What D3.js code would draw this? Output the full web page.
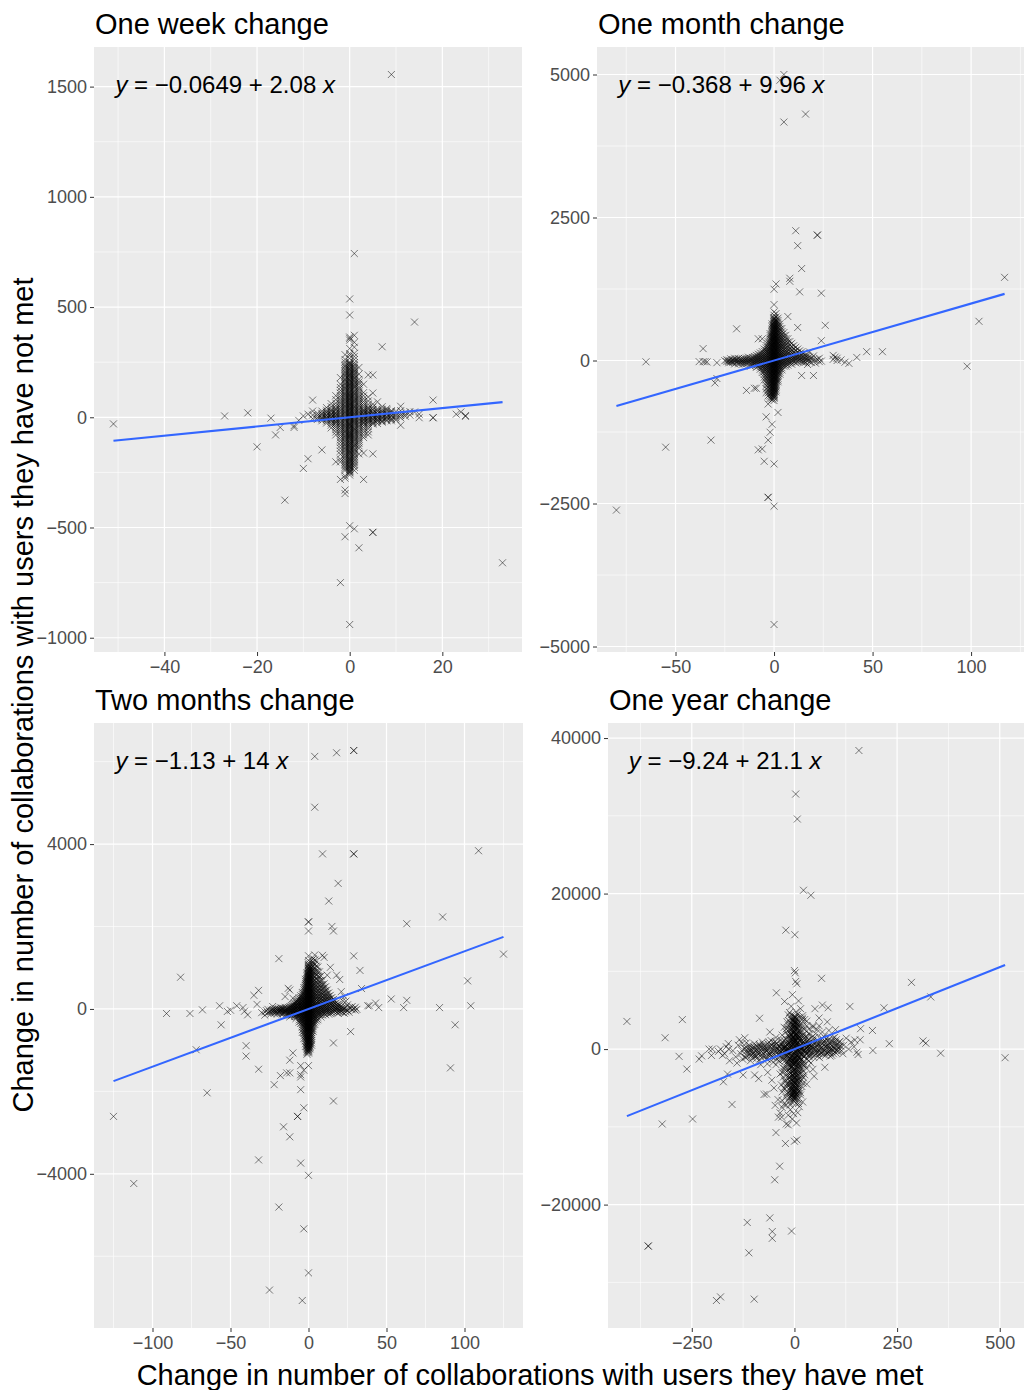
<!DOCTYPE html>
<html>
<head>
<meta charset="utf-8">
<script src="https://cdn.jsdelivr.net/npm/d3@7"></script>
<style>
  body { margin: 0; background: #ffffff; }
  svg { display: block; font-family: "Liberation Sans", Arial, Helvetica, sans-serif; }
</style>
</head>
<body>
<svg id="chart" width="1025" height="1390"></svg>
<script>
// Panel titles, fitted line coefficients and axis breaks
const panelTitles = ["One week change", "One month change", "Two months change", "One year change"];
const intercepts = [-0.0649, -0.368, -1.13, -9.24];
const slopes = [2.08, 9.96, 14, 21.1];
const xBreaks = [[-40, -20, 0, 20], [-50, 0, 50, 100], [-100, -50, 0, 50, 100], [-250, 0, 250, 500]];
const yBreaks = [[-1000, -500, 0, 500, 1000, 1500], [-5000, -2500, 0, 2500, 5000], [-4000, 0, 4000], [-20000, 0, 20000, 40000]];
const xTitle = "Change in number of collaborations with users they have met";
const yTitle = "Change in number of collaborations with users they have not met";

// One week: observations grouped by change with met users, [x, [y, ...]]
const weekPoints = [
  [0, [537, 464, 364, 358, 350, 312, 289, 280, 267, 251, 243, 236, 231, 222, 216, 211, 203, 195, 192, 184, 177, 171, 166, 158, 150, 147, 139, 133, 125, 120, 113, 106, 100, 94, 86, 81, 73, 67, 60, 55, 48, 41, 36, 29, 22, 17, 10, 4, -1, -8, -15, -19, -27, -33, -38, -46, -52, -57, -65, -71, -78, -84, -90, -97, -104, -109, -117, -122, -130, -137, -142, -150, -156, -163, -170, -175, -183, -190, -196, -204, -210, -218, -225, -231, -239, -246, -253, -262, -492, -940]],
  [0, [248, 240, 228, 219, 208, 199, 189, 181, 170, 162, 153, 144, 136, 129, 117, 110, 103, 97, 90, 83, 77, 70, 63, 57, 51, 44, 38, 32, 25, 19, 13, 7, 1, -5, -11, -23, -30, -35, -43, -49, -60, -68, -75, -81, -87, -93, -101, -112, -119, -127, -134, -145, -153, -160, -167, -179, -187, -193, -200, -207, -215, -222, -228, -236, -243, -250]],
  [1, [743, 372, 340, 318, 290, 276, 262, 248, 240, 226, 214, 205, 193, 182, 174, 163, 152, 142, 134, 121, 110, 102, 91, 80, 71, 60, 49, 42, 31, 20, 12, 2, -9, -18, -28, -39, -50, -58, -69, -80, -90, -101, -112, -124, -133, -146, -158, -170, -184, -197, -212, -227, -241, -506]],
  [1, [233, 220, 209, 198, 188, 178, 168, 158, 147, 138, 128, 116, 106, 96, 86, 76, 66, 55, 46, 36, 26, 16, 7, -4, -14, -23, -33, -44, -54, -63, -74, -85, -95, -106, -118, -129, -140, -152, -164, -177, -190, -204, -219]],
  [-1, [284, 262, 240, 227, 212, 199, 188, 174, 163, 151, 139, 130, 117, 106, 95, 84, 72, 63, 51, 40, 30, 19, 8, -2, -13, -24, -34, -45, -56, -67, -79, -90, -101, -114, -126, -139, -152, -166, -180, -195, -211, -226, -241, -266, -276, -330, -346, -542]],
  [-1, [250, 233, 219, 205, 193, 181, 169, 157, 145, 134, 123, 111, 100, 89, 78, 67, 57, 46, 35, 24, 13, 3, -8, -18, -29, -40, -51, -62, -73, -84, -96, -108, -120, -132, -145, -159, -173, -188, -203, -218, -233]],
  [2, [226, 196, 172, 150, 128, 109, 92, 74, 58, 44, 31, 18, 6, -7, -20, -33, -47, -63, -80, -98, -118, -140, -166, -592]],
  [2, [160, 138, 118, 100, 83, 66, 51, 37, 24, 12, 0, -13, -26, -40, -55, -71, -89, -108, -129]],
  [-2, [180, 150, 122, 98, 78, 61, 44, 30, 16, 3, -10, -24, -38, -54, -72, -92, -114, -140, -168, -190, -202, -750, -282]],
  [-2, [135, 110, 88, 69, 52, 37, 23, 9, -3, -17, -31, -46, -63, -82, -103, -127, -154]],
  [3, [150, 112, 84, 62, 43, 27, 13, 0, -14, -29, -47, -68, -92, -162, -282]],
  [3, [98, 72, 52, 35, 20, 6, -7, -21, -37, -57, -80, 30, 16, 3, -10, -24]],
  [-3, [98, 64, 41, 23, 9, -5, -19, -36, -56, -80, -202]],
  [-3, [80, 52, 32, 16, 2, -12, -27, -45, -67, 36, 18, 4, -9, -22]],
  [4, [192, 92, 58, 36, 20, 6, -8, -24, -42, -66, -80]],
  [4, [74, 46, 28, 13, 0, -15, -32, -52, 40, 22, 8, -6, -20]],
  [-4, [62, 36, 18, 4, -10, -27, -48]],
  [-4, [48, 27, 11, -3, -18, -36, 30, 14, 0, -14]],
  [5, [192, 110, 60, 34, 16, 2, -13, -31, -166, -522, -522]],
  [5, [46, 25, 9, -5, -21, 36, 20, 6, -8, -26]],
  [-5, [44, 22, 6, -9, -26]],
  [-5, [32, 14, -1, -17, 24, 8, -6]],
  [6, [70, 38, 18, 4, -10, -28]],
  [6, [26, 10, -3, -18, 32, 14, 0, -14]],
  [-6, [28, 8, -8, -148]],
  [-6, [18, 0, -16, 14, -4]],
  [7, [320, 48, 24, 8, -6, -22]],
  [7, [36, 16, 0, -14, 28, 12, -2, -18]],
  [-7, [18, -2, 8, -10]],
  [8, [40, 20, 4, -12]],
  [8, [28, 12, -4, 34, 16, 0, -16]],
  [-8, [78, 28, 10, -6]],
  [9, [1555, 30, 10, -6, -16, 20, 2, 26, 8, -10]],
  [-9, [14, -188]],
  [10, [26, 6, -12, 14, -4]],
  [-10, [6, -232]],
  [11, [50, 16, -2, -36, 8, 30]],
  [-11, [-14]],
  [12, [22, 4, 12]],
  [-12, [-38, -46]],
  [13, [26, 10]],
  [14, [432, 24]],
  [15, [14, -2]],
  [-14, [-376]],
  [-15, [-46]],
  [-16, [-80]],
  [-17, [-4]],
  [18, [78, -2, -2]],
  [-20, [-134]],
  [-22, [20]],
  [23, [14]],
  [24, [24]],
  [25, [4, 8]],
  [-27, [6]],
  [33, [-660]],
  [-51, [-30]]
];

// One month
const monthPoints = [
  [0, [1246, 977, 850, 790, 752, 726, 700, 671, 645, 618, 590, 566, 540, 512, 487, 460, 434, 410, 383, 357, 330, 306, 280, 255, 228, 203, 176, 150, 126, 100, 74, 50, 24, -3, -28, -54, -80, -106, -131, -158, -183, -210, -236, -262, -290, -315, -342, -368, -395, -421, -448, -474, -500, -527, -553, -580, -607, -633, -660, -700, -1808, -2546, -4615]],
  [0, [740, 712, 684, 657, 630, 604, 578, 552, 526, 499, 473, 447, 421, 396, 370, 344, 318, 293, 267, 241, 215, 189, 163, 138, 112, 87, 62, 37, 11, -15, -41, -67, -93, -119, -145, -171, -197, -223, -249, -276, -302, -329, -355, -381, -408, -435, -461, -488, -514, -540, -567, -594, -620, -647]],
  [1, [1338, 820, 760, 702, 650, 598, 552, 503, 455, 410, 362, 318, 273, 227, 184, 140, 96, 54, 12, -30, -74, -116, -160, -204, -250, -296, -344, -392, -442, -495, -550]],
  [1, [680, 622, 575, 527, 480, 432, 386, 340, 296, 250, 206, 162, 118, 75, 33, -9, -52, -95, -138, -182, -227, -273, -320, -368, -417, -468, -522]],
  [-1, [640, 585, 530, 480, 432, 384, 338, 292, 248, 204, 160, 118, 76, 34, -8, -50, -94, -138, -182, -228, -274, -320, -368, -416, -466, -518, -572, -628, -688, -1115]],
  [-1, [612, 557, 505, 456, 408, 361, 315, 270, 226, 182, 139, 97, 55, 13, -29, -72, -116, -160, -205, -251, -297, -344, -392, -441, -492, -545, -600, -658]],
  [2, [740, 668, 600, 536, 476, 418, 362, 308, 256, 204, 154, 104, 56, 10, -38, -88, -140, -194, -250, -310, -372, -908]],
  [2, [700, 634, 568, 506, 447, 390, 335, 282, 230, 179, 129, 80, 33, -13, -63, -114, -167, -222, -280, -341]],
  [-2, [470, 404, 342, 284, 228, 174, 122, 70, 20, -30, -82, -136, -192, -250, -310, -374, -440, -510, -584, -662, -1254]],
  [-2, [437, 373, 313, 256, 201, 148, 96, 45, -5, -56, -109, -164, -221, -280, -342, -407, -475, -547, -623]],
  [3, [4900, 640, 552, 470, 394, 322, 254, 190, 128, 68, 10, -48, -108, -172, -240]],
  [3, [596, 511, 432, 358, 288, 222, 159, 98, 39, -19, -78, -140, -206]],
  [-3, [330, 256, 186, 120, 58, -2, -62, -124, -190, -260, -336, -420, -512, -618, -760, -1392, -2392, -2392]],
  [-3, [293, 221, 153, 89, 28, -32, -93, -157, -225, -298, -378, -466, -565]],
  [4, [560, 452, 356, 270, 192, 118, 48, -20, -90, -164]],
  [4, [506, 404, 313, 231, 155, 83, 14, -55, -127]],
  [-4, [262, 180, 106, 38, -28, -96, -168, -246, -334, -436, -560, -985]],
  [-4, [221, 143, 72, 5, -62, -132, -207, -290, -385, -498]],
  [5, [5000, 4169, 488, 380, 284, 196, 116, 42, -28, -100]],
  [5, [434, 332, 240, 156, 79, 6, -64]],
  [-5, [200, 122, 52, -14, -82, -156, -240, -340, -1762]],
  [-5, [161, 87, 19, -48, -119, -198, -290]],
  [6, [440, 320, 216, 126, 46, -26, -98]],
  [6, [380, 268, 171, 86, 10, -62]],
  [-6, [380, 156, 80, 12, -54, -126, -210, -1546]],
  [-6, [118, 46, -21, -90, -168]],
  [7, [769, 380, 262, 160, 72, -6, -80]],
  [7, [321, 211, 116, 32, -43]],
  [-7, [132, 58, -8, -76, -152]],
  [-7, [95, 25, -42, -114]],
  [8, [1438, 1385, 330, 214, 114, 30, -44]],
  [8, [272, 164, 72, -7]],
  [-8, [380, 110, 40, -26, -98, -1562]],
  [-8, [75, 7, -62]],
  [9, [300, 180, 86, 8, -66, 240, 133, 47, -29]],
  [-9, [90, 22, -44, -120, -485, 56, -11, -82]],
  [10, [260, 146, 56, -20, 203, 101, 18]],
  [-10, [72, 6, -60, -485, 39, -27]],
  [11, [2269, 232, 120, 36, -40, 176, 78, 2]],
  [-11, [54, -12, -80, 21, -46]],
  [12, [2008, 577, 200, 96, 14, 148, 55, -18]],
  [-12, [40, -26, -100, 7, -63]],
  [13, [1200, 170, 72, -6, 120, 30]],
  [-13, [24, -40, -8, 58]],
  [14, [1608, 150, 52, -24, -262, 100, 8]],
  [-14, [12, -56, -523, 44, -22]],
  [15, [120, 32, -40, 76, -10]],
  [-15, [36, -28, 2, -60]],
  [16, [4308, 96, 16, 58, -30]],
  [-16, [0, -64, 30, -32]],
  [17, [80, -4, -70, 40]],
  [-17, [18, -46, -12]],
  [18, [150, 62, -20, 22]],
  [-18, [4, -58, -26, 36]],
  [19, [40, -36]],
  [-19, [554, 22, -30, -4]],
  [20, [80, 24, -262]],
  [-20, [40, -12, -60, 10]],
  [21, [8, -46]],
  [-21, [14, -36, -12]],
  [22, [2192, 2192, 20]],
  [-22, [30, -10, -30]],
  [23, [40, -20]],
  [-23, [6, -40, -14]],
  [24, [1177, 346, -10]],
  [-24, [12, -20]],
  [-25, [-4]],
  [26, [615]],
  [-29, [-38, -315]],
  [30, [90, 20]],
  [-30, [-392]],
  [31, [60]],
  [32, [40, 0]],
  [-32, [-1392]],
  [34, [10]],
  [-34, [-25]],
  [-35, [-20]],
  [36, [-30]],
  [-36, [208, -20]],
  [38, [-50]],
  [-38, [-20]],
  [42, [54]],
  [47, [154]],
  [55, [154]],
  [-55, [-1515]],
  [-65, [-23]],
  [-80, [-2615]],
  [98, [-100]],
  [104, [685]],
  [117, [1454]]
];

// Two months
const twoMonthPoints = [
  [0, [2112, 2112, 1892, 1290, 1175, 1118, 1080, 1046, 1003, 972, 930, 897, 858, 821, 790, 749, 716, 678, 641, 610, 571, 536, 503, 466, 428, 397, 359, 321, 290, 252, 214, 183, 146, 108, 77, 40, 3, -28, -66, -103, -135, -172, -208, -241, -277, -314, -347, -383, -419, -452, -490, -526, -559, -596, -633, -665, -702, -738, -771, -808, -845, -878, -915, -951, -986, -1022, -1067, -1375, -4037, -6403]],
  [0, [1060, 1012, 985, 950, 912, 877, 840, 805, 768, 732, 697, 660, 624, 590, 553, 518, 482, 446, 410, 374, 340, 304, 268, 232, 198, 162, 126, 90, 56, 20, -14, -48, -84, -120, -153, -190, -224, -259, -296, -331, -365, -401, -436, -471, -508, -543, -578, -614, -649, -684, -720, -755, -790, -826, -861, -896, -933, -968, -1004, -1040]],
  [1, [1010, 946, 884, 820, 757, 697, 634, 573, 511, 452, 390, 331, 272, 210, 152, 93, 34, -25, -84, -143, -204, -264, -325, -385, -447, -510, -572, -636, -700, -766, -832, -900, -968]],
  [1, [978, 915, 852, 789, 727, 666, 604, 543, 482, 421, 361, 301, 241, 181, 122, 63, 4, -55, -114, -174, -234, -295, -355, -416, -478, -541, -604, -668, -733, -799, -866, -934]],
  [-1, [880, 806, 735, 663, 594, 525, 457, 390, 324, 259, 194, 130, 67, 4, -58, -121, -184, -248, -312, -377, -443, -510, -578, -647, -718, -790, -864, -940, -1020, -1100]],
  [-1, [843, 771, 699, 628, 559, 491, 424, 357, 291, 226, 162, 98, 35, -27, -90, -152, -216, -280, -345, -410, -477, -544, -612, -683, -754, -827, -902, -980, -1060]],
  [2, [1180, 1060, 950, 846, 748, 655, 566, 481, 399, 320, 244, 170, 98, 28, -41, -110, -180, -252, -326, -404, -486, -574, -668, -770, -880]],
  [2, [1120, 1005, 898, 797, 701, 610, 523, 440, 359, 282, 207, 134, 63, -7, -75, -145, -216, -289, -365, -445, -530, -621, -719, -825]],
  [-2, [720, 620, 528, 442, 361, 284, 210, 140, 72, 6, -58, -122, -188, -256, -328, -404, -486, -574, -670, -780, -910]],
  [-2, [670, 574, 485, 401, 322, 247, 175, 106, 39, -26, -90, -155, -222, -292, -366, -445, -530, -622, -725, -845]],
  [3, [1220, 1040, 880, 736, 604, 484, 374, 272, 178, 90, 6, -76, -158, -242, -332, -430, -540]],
  [3, [1130, 960, 808, 670, 544, 429, 323, 225, 134, 48, -35, -117, -200, -287, -381, -485]],
  [-3, [520, 410, 312, 224, 144, 70, 0, -68, -138, -212, -292, -380, -478, -590, -720, -1485, -2398, -5335]],
  [-3, [465, 361, 268, 184, 107, 35, -34, -103, -175, -252, -336, -429, -534, -655]],
  [4, [6128, 4895, 1310, 1080, 880, 700, 542, 400, 272, 156, 50, -50, -150, -256, -374]],
  [4, [1190, 980, 790, 621, 471, 336, 214, 103, 0, -100, -203, -315]],
  [-4, [400, 300, 210, 130, 58, -12, -82, -156, -238, -330, -438, -570, -7074]],
  [-4, [350, 255, 170, 94, 23, -47, -119, -197, -284, -384, -504]],
  [5, [1160, 920, 720, 548, 396, 262, 142, 34, -68, -172, -290]],
  [5, [1040, 820, 634, 472, 329, 202, 88, -17, -120, -231]],
  [-5, [320, 224, 140, 64, -8, -82, -160, -248, -350, -1375, -1595, -1650, -1958, -3740]],
  [-5, [272, 182, 102, 28, -45, -121, -204, -299]],
  [6, [1020, 800, 610, 446, 302, 174, 60, -46, -150, -262]],
  [6, [910, 705, 528, 374, 238, 117, 7, -98, -206]],
  [-6, [270, 180, 100, 26, -46, -124, -212, -318]],
  [-6, [225, 140, 63, -10, -85, -168, -265]],
  [7, [900, 680, 496, 340, 204, 84, -24, -130]],
  [7, [790, 588, 418, 272, 144, 30, -77]],
  [-7, [220, 136, 60, -14, -92, -178, -2607, -2607]],
  [-7, [178, 98, 23, -53, -135]],
  [8, [800, 590, 414, 266, 136, 22, -84, -196]],
  [8, [690, 502, 340, 201, 79, -31, -140]],
  [-8, [176, 96, 22, -54, -136, -232]],
  [-8, [136, 59, -16, -95, -184]],
  [9, [3762, 1300, 700, 500, 340, 200, 76, -36, -146]],
  [9, [590, 415, 270, 138, 17, -91]],
  [-9, [140, 60, -14, -92, -180, 100, 20, -53, -136]],
  [10, [1250, 610, 420, 262, 126, 6, -106, 515, 341, 194, 66, -47]],
  [-10, [260, 110, 32, -44, -124, -1067, 70, -6, -84]],
  [11, [540, 360, 210, 84, -28, -140, 450, 285, 147, 28, -84]],
  [-11, [84, 8, -70, -156, 46, -31, -113]],
  [12, [820, 460, 290, 150, 30, -82, 370, 220, 90, -25]],
  [-12, [460, 60, -16, -96, -190, -1243, -1551, -3102, 22, -56, -140]],
  [13, [2618, 390, 236, 104, -14, -126, 310, 170, 45, -70]],
  [-13, [500, 38, -40, -124, 0, -82]],
  [14, [1010, 330, 186, 62, -54, 256, 124, 6, -110]],
  [-14, [16, -62, -148, -1551, -22, -104]],
  [15, [2002, 276, 142, 24, -88, 210, 84, -30]],
  [-15, [300, -6, -86, -46, 40]],
  [16, [1892, 230, 104, -10, -825, -2233, 170, 50, -64]],
  [-16, [-24, -110, -2860, -70, 14]],
  [17, [188, 68, -44, 130, 16]],
  [-17, [20, -46, -130, -10, -94]],
  [18, [6216, 820, 150, 36, -76, 95, -16]],
  [-18, [-14, -96, -1617, -40, 30]],
  [19, [3047, 116, 4, -104, 60, -50]],
  [-19, [1221, 6, -72, -4807, -30]],
  [20, [715, 86, -28, 30, -70]],
  [-20, [-36, -120, 0, -80]],
  [21, [420, 58, -58, 10]],
  [-21, [14, -80, -40]],
  [22, [200, 30, -84, -20]],
  [-22, [-24, -104, -1837, -60]],
  [23, [300, 8, -106]],
  [-23, [60, -50, -10]],
  [24, [190, -16, -70, 40]],
  [-24, [-30, -118, -70]],
  [25, [100, -36]],
  [-25, [-64, -6821]],
  [26, [30, -80]],
  [-26, [-10, -96]],
  [27, [20, -550]],
  [-27, [-40]],
  [28, [60, -20]],
  [-28, [-70, -150]],
  [29, [6271, 6271, 3762, 3762, 1287, 0]],
  [30, [40, -30]],
  [-30, [-90]],
  [31, [-10]],
  [-32, [451, -1463, -3663]],
  [-33, [110]],
  [33, [935]],
  [34, [495]],
  [-35, [330]],
  [38, [77]],
  [39, [77]],
  [-39, [-143]],
  [-40, [-891, -1144]],
  [-41, [-55]],
  [-42, [33]],
  [43, [143]],
  [45, [33]],
  [-46, [77]],
  [-50, [-30]],
  [-52, [-60]],
  [53, [242]],
  [-56, [-385]],
  [-57, [77]],
  [61, [33]],
  [63, [209, 2068]],
  [-65, [-2035]],
  [-68, [-22]],
  [-72, [-990]],
  [-76, [-110]],
  [-82, [770]],
  [84, [33]],
  [86, [2233]],
  [91, [-1430]],
  [-91, [-110]],
  [94, [-385]],
  [102, [682]],
  [104, [77]],
  [109, [3839]],
  [-112, [-4235]],
  [125, [1331]],
  [-125, [-2607]]
];

// One year: individual observations, [x, y]
const yearPoints = [
  [0, 4250], [3, 4100], [-2, 3980], [5, 3860], [1, 3740], [-4, 3620], [7, 3500], [2, 3380], [-1, 3260], [6, 3140],
  [-6, 3020], [3, 2900], [-3, 2790], [9, 2680], [0, 2570], [-8, 2460], [5, 2350], [11, 2240], [-2, 2130], [-10, 2020],
  [7, 1910], [1, 1800], [-5, 1690], [13, 1580], [-12, 1470], [3, 1360], [9, 1250], [-7, 1140], [0, 1030], [15, 920],
  [-14, 810], [6, 700], [-3, 590], [11, 480], [-9, 370], [2, 260], [17, 150], [-16, 40], [-1, -70],
  [8, -180], [-6, -290], [14, -400], [-12, -510], [1, -620], [18, -730], [-18, -840], [4, -950], [-9, -1060], [12, -1170],
  [-3, -1280], [16, -1390], [-15, -1500], [6, -1610], [-7, -1720], [10, -1830], [0, -1940], [-13, -2050], [14, -2160], [-4, -2270],
  [8, -2380], [-10, -2490], [2, -2600], [-16, -2710], [12, -2820], [-6, -2930], [5, -3040], [-1, -3150], [-12, -3260], [9, -3370],
  [-8, -3480], [3, -3590], [-14, -3700], [11, -3810], [-3, -3920], [7, -4030], [-10, -4140], [0, -4250], [-6, -4360], [4, -4470],
  [-12, -4580], [9, -4690], [-2, -4800], [-8, -4910], [6, -5020], [-4, -5130], [1, -5240], [-10, -5350], [3, -5460], [-6, -5570],
  [7, -5680], [-2, -5790], [-9, -5900], [2, -6010], [-5, -6120], [4, -6230], [-1, -6340],
  [-1, 4180], [4, 3920], [-5, 3700], [2, 3460], [8, 3200], [-3, 3080], [4, 2840], [-7, 2620], [10, 2400], [-1, 2190],
  [4, 1980], [-9, 1860], [8, 1640], [-4, 1420], [12, 1200], [-1, 980], [-11, 760], [8, 540], [-6, 320], [13, 100],
  [-4, -120], [10, -340], [-15, -560], [5, -780], [-2, -1000], [15, -1220], [-11, -1440], [3, -1660], [-5, -1880], [11, -2100],
  [-8, -2320], [6, -2540], [-2, -2760], [-11, -2980], [8, -3200], [-5, -3420], [1, -3640], [-9, -3860], [5, -4080], [-15, -4300],
  [2, -4520], [-5, -4740], [10, -4960], [-7, -5180], [0, -5400], [-3, -5620], [5, -5840], [-7, -6060], [0, -6280],
  [2, 4050], [-3, 3850], [1, 3560], [-1, 3400], [5, 3300], [-4, 3150], [0, 2960], [6, 2750], [-5, 2560], [2, 2450],
  [-1, 2300], [7, 2100], [-6, 1950], [3, 1750], [-3, 1600], [8, 1450], [-8, 1300], [1, 1150], [5, 1080], [-4, 900],
  [9, 850], [-10, 650], [3, 500], [-2, 420], [12, 330], [-12, 200], [5, 120], [-5, -20], [10, -100], [-9, -250],
  [2, -350], [-1, -460], [13, -600], [-14, -700], [6, -860], [-5, -920], [11, -1010], [-11, -1120], [1, -1230], [8, -1340],
  [-6, -1420], [13, -1560], [-12, -1650], [3, -1760], [-2, -1860], [10, -1970], [-9, -2080], [5, -2200], [-6, -2310], [12, -2430],
  [-13, -2550], [0, -2670], [7, -2780], [-4, -2880], [10, -2990], [-9, -3100], [2, -3210], [-5, -3320], [6, -3440], [-11, -3550],
  [0, -3660], [9, -3770], [-7, -3880], [3, -3990], [-2, -4100], [5, -4210], [-9, -4320], [1, -4430], [8, -4540], [-5, -4650],
  [-1, -4770], [4, -4880], [-11, -4990], [2, -5100], [-6, -5210], [8, -5320], [-3, -5430], [0, -5540], [-8, -5650], [4, -5760],
  [-5, -5870], [6, -5980], [-2, -6090], [-10, -6200], [2, -6400], [-3, -6550], [0, -6700], [-6, -6850], [4, -7000],
  [0, 3050], [3, 2650], [-2, 2050], [4, 1650], [-2, 1250], [0, 850], [2, 450], [-1, 50], [3, -250], [-3, -700],
  [1, -1150], [-1, -1600], [4, -2050], [-3, -2500], [1, -2950], [-2, -3400], [3, -3850], [-1, -4300], [2, -4750], [-3, -5200],
  [0, -5650], [1, -6100],
  [-38, 400], [-34, -600], [-30, 900], [-27, -1100], [-24, 100], [-21, 1300], [-18, -300], [-15, 700], [-12, -1400], [-9, 1000],
  [-6, -700], [-3, 1500], [0, -1300], [3, 1100], [6, -500], [9, 1400], [12, -900], [15, 500], [18, -1300], [21, 900],
  [24, -200], [27, 1200], [30, -700], [33, 300], [36, -1000], [39, 600],
  [-36, -200], [-32, 500], [-28, -800], [-25, 1100], [-22, -1500], [-19, 600], [-16, -100], [-13, 1200], [-10, -1200], [-7, 400],
  [-4, -1500], [-1, 1300], [2, -900], [5, 700], [8, -1400], [11, 200], [14, 1000], [17, -700], [20, 1500], [23, -1000],
  [26, 500], [29, -400], [32, 1100], [35, -800], [38, 100],
  [-33, 1200], [-29, -1400], [-26, 300], [-23, -800], [-20, 800], [-17, -1600], [-14, 1700], [-11, -200], [-8, 1800], [-5, -1800],
  [-2, 600], [1, -1700], [4, 1900], [7, -1000], [10, 1700], [13, -1800], [16, 0], [19, 1800], [22, -1600], [25, 800],
  [28, 1600], [31, -1300], [34, 700],
  [-22, -2300], [19, -2600], [-25, -2900], [16, -3100], [-20, -3400], [22, -3700], [-24, -4000], [14, -4200], [-19, -4500], [18, -4800],
  [-23, -5100], [12, -5300], [-17, -5600], [15, -5900], [-21, -6200], [9, -6500], [-14, -6800], [-26, -7100],
  [-20, 2200], [18, 2400], [-17, 2700], [21, 2900], [-15, 3100], [16, 3300], [-13, 3600], [19, 3800], [-10, 4000], [12, 4100],
  [-8, 4400], [8, 4500],
  [-18, -1900], [23, -2100], [-28, -2400], [20, -2800], [-30, -3000], [25, -3300], [-27, -3600], [17, -3900], [-22, -4200], [-32, -4600],
  [21, -4400], [-26, -5000], [10, -5500], [-18, -5800], [-13, -6300], [-30, -6600],
  [-12, 2500], [14, 2100], [-9, 3300], [11, 3000], [-16, 1800], [23, 1900],
  [0, 10096], [2, 9804], [3, 8700], [6, 8400], [-5, 7000], [10, 6200], [-8, 5500], [15, 5200], [4, 4800], [-12, 4700],
  [20, 4300], [25, 3800], [-18, 3500], [30, 3000], [35, 2600], [-25, 2800], [1, 14707], [-21, 15290], [3, 32800], [7, 29590],
  [22, 20426], [40, 19784], [157, 38400],
  [-20, -7200], [-30, -7500], [-10, -7800], [-35, -8200], [-15, -8500], [-39, -8754], [-31, -8754], [-20, -9630], [-15, -9746], [-45, -10738],
  [-22, -12139], [0, -11847], [6, -11672], [8, -8170], [-5, -9000], [-36, -15057], [-48, -16808], [-115, -22294], [-60, -21710], [-54, -23461],
  [-54, -24336], [-7, -23402], [-111, -26203], [-356, -25328], [-356, -25328], [-190, -32332], [-180, -31866], [-98, -32157], [5, -9500], [-2, -8300], [12, -7400],
  [-20, 320], [-23, -210], [-27, 540], [-30, -60], [-33, -380], [-36, 260], [-39, -700], [-42, 110], [-45, -260], [-48, 480],
  [-51, -540], [-54, 40], [-57, -180], [-60, 350], [-63, -820], [-66, -90], [-69, 200], [-72, -430], [-75, -1000], [-78, 60],
  [-81, -300], [-84, 420], [-87, -650], [-90, -120], [-93, -880], [-96, 180], [-99, -400], [-102, -1150], [-105, -40], [-108, -620],
  [-111, 240], [-114, -900], [-118, -300], [-122, 100], [-126, -1300], [-131, -600], [-137, 500], [-143, -1000], [-150, -200], [-158, -1500],
  [-166, 300], [-175, -800], [-185, -300],
  [-22, -560], [-26, 80], [-31, 620], [-35, -920], [-40, -180], [-44, 720], [-49, -1140], [-53, 350], [-58, -420], [-62, 900],
  [-67, -1250], [-71, -20], [-76, 620], [-80, -780], [-85, -1400], [-89, 240], [-94, -200], [-98, 700], [-103, -700], [-107, -1500],
  [-112, 0], [-117, 800], [-121, -1000], [-128, -200], [-134, 1200], [-140, -1800],
  [-14, 300], [-17, -400], [-19, 100], [-21, -200], [-24, 200], [-28, -500], [-32, 0], [-37, 400], [-41, -400], [-46, 200],
  [-50, -200], [-55, 500], [-59, -700], [-64, 300], [-68, -300], [-73, 100], [-77, -500], [-83, 200], [-88, -300], [-92, 400],
  [-97, -700], [-101, 100], [-106, -300], [-110, 500], [-115, -500], [-119, -1100],
  [-45, -900], [-50, 800], [-55, -1000], [-60, -600], [-65, 700], [-70, -900], [-75, 400], [-80, -1100], [-85, 600], [-90, -500],
  [-95, -1000], [-100, 300], [-105, -800], [-110, -100], [-42, -1300], [-47, 1000], [-57, 1100], [-67, -1300], [-78, 900], [-92, -1200],
  [20, -120], [23, 400], [26, -420], [29, 180], [32, 700], [35, -260], [38, 300], [41, -560], [44, 900], [47, 60],
  [50, -300], [53, 520], [56, 1100], [59, -80], [62, 380], [65, -500], [68, 800], [71, 140], [74, -200], [77, 1300],
  [80, 440], [83, -380], [86, 80], [89, 900], [92, -100], [95, 300], [98, 1500], [101, -500], [104, 600], [107, 200],
  [111, 1000], [115, -200], [120, 500], [126, 1400], [132, 0], [138, 900], [145, 300], [152, -400], [160, 1200],
  [22, 900], [25, -800], [28, 500], [31, -100], [34, 1200], [37, -700], [40, 0], [43, 600], [46, -1000], [49, 1500],
  [52, 200], [55, -500], [58, 700], [61, -1100], [64, 100], [67, 1400], [70, -300], [73, 500], [76, -800], [79, 200],
  [82, 1100], [85, -200], [88, 600], [91, -800], [94, 1400], [97, 100], [102, -200], [110, 400], [118, -600],
  [14, -200], [17, 300], [19, -500], [21, 200], [24, -100], [27, 700], [30, 200], [33, -400], [36, 500], [39, -200],
  [42, 300], [45, -600], [48, 700], [51, 0], [54, -200], [57, 500], [60, -300], [63, 800], [66, 200], [69, -400],
  [72, 900], [75, 300], [78, -500], [81, 600], [84, 100], [87, -500], [90, 500], [93, 1000], [96, -200], [99, 700],
  [103, 300], [106, -300], [109, 900], [113, 400],
  [45, 1100], [50, -700], [55, 900], [60, -600], [65, 1200], [70, -700], [75, 1000], [80, -500], [85, 1300], [90, 0],
  [95, -600], [100, 900], [105, -100], [42, 1500], [57, -900], [72, 1600], [87, -900], [102, 1200],
  [-16, -1000], [-26, -1300], [-38, -1500], [-52, -1700], [-66, -1900], [-82, -2000], [16, 1300], [28, 1600], [38, 1900], [52, 2000],
  [68, 2200], [84, 2400],
  [15, 3000], [25, 2500], [35, 2000], [45, 2800], [20, 4000], [30, 3600], [60, 3000], [-20, 2600], [-30, 1800], [-45, 1500],
  [-60, 2200], [-15, 4400], [-25, -2500], [-35, -3200], [-45, -2000], [-55, -4000], [-65, -3000], [-20, -4800], [-30, -5500], [-40, -6500],
  [-50, -5000], [25, -2000], [35, -1500], [45, -2600], [20, -3500], [30, -4500], [15, -5600], [20, -6800], [-10, -7200], [10, -7000],
  [-120, 100], [-160, 0], [-170, -600], [-180, 0], [-200, 0], [-208, 0], [-202, -817], [-232, -1284], [-226, -875], [-161, 700],
  [-163, -3210], [-173, -4202], [-152, -7120], [-248, -8988], [-322, -9630], [-127, 759], [-121, 1459], [-125, -3326], [-97, -3326], [-87, -3793],
  [-74, -5836], [-68, -5778], [-47, -7237], [-281, -934], [-262, -2568], [-315, 1459], [-408, 3560], [-273, 3793], [-85, 3968], [-44, 7237],
  [-24, 6128], [147, 1167], [155, -700], [161, 2626], [190, 2393], [191, -175], [231, 700], [313, 1050], [320, 759], [356, -525],
  [513, -1109], [74, -2334], [48, -3501], [66, 9104], [285, 8579], [135, 5486], [68, 5661], [82, 5311], [218, 5311], [332, 6711],
  [50, 5194], [60, 4000], [45, 3000], [30, -2500], [40, -1800], [20, -2000], [55, 2500], [80, 3500], [100, 2500]
];

const panelData = [weekPoints, monthPoints, twoMonthPoints, yearPoints];

// Plot frames on the page
const frames = [
  { x0: 94, x1: 522, y0: 47, y1: 652 },
  { x0: 597, x1: 1024, y0: 47, y1: 652 },
  { x0: 94, x1: 523, y0: 723, y1: 1328 },
  { x0: 608, x1: 1024, y0: 723, y1: 1328 }
];

const svg = d3.select("#chart");
svg.append("rect").attr("width", 1025).attr("height", 1390).attr("fill", "#ffffff");

const expand = ext => { const d = ext[1] - ext[0]; return [ext[0] - 0.05 * d, ext[1] + 0.05 * d]; };
const toPairs = rows => rows.flatMap(r => Array.isArray(r[1]) ? r[1].map(v => [r[0], v]) : [r]);
const minorOf = (br, dom) => {
  const step = br[1] - br[0];
  const out = [];
  for (let i = -1; i < br.length; i++) out.push(br[0] + (i + 0.5) * step);
  return out.filter(v => v > dom[0] && v < dom[1]);
};
const num = d3.format(".3~g");
const tickFmt = d3.format("d");
const crossPath = "M-3.5,-3.5L3.5,3.5M-3.5,3.5L3.5,-3.5";

panelData.forEach((rows, i) => {
  const f = frames[i];
  const pts = toPairs(rows);
  const xDom = expand(d3.extent(pts, d => d[0]));
  const yDom = expand(d3.extent(pts, d => d[1]));
  const x = d3.scaleLinear().domain(xDom).range([f.x0, f.x1]);
  const y = d3.scaleLinear().domain(yDom).range([f.y1, f.y0]);
  const w = f.x1 - f.x0, h = f.y1 - f.y0;

  const g = svg.append("g");
  const clipId = "clip" + i;
  g.append("clipPath").attr("id", clipId)
    .append("rect").attr("x", f.x0).attr("y", f.y0).attr("width", w).attr("height", h);

  // panel background
  g.append("rect").attr("x", f.x0).attr("y", f.y0).attr("width", w).attr("height", h).attr("fill", "#EBEBEB");

  // grid
  const grid = g.append("g").attr("clip-path", `url(#${clipId})`);
  grid.selectAll(".vmin").data(minorOf(xBreaks[i], xDom)).join("line")
    .attr("x1", d => x(d)).attr("x2", d => x(d)).attr("y1", f.y0).attr("y2", f.y1)
    .attr("stroke", "#ffffff").attr("stroke-width", 0.6);
  grid.selectAll(".hmin").data(minorOf(yBreaks[i], yDom)).join("line")
    .attr("y1", d => y(d)).attr("y2", d => y(d)).attr("x1", f.x0).attr("x2", f.x1)
    .attr("stroke", "#ffffff").attr("stroke-width", 0.6);
  grid.selectAll(".vmaj").data(xBreaks[i]).join("line")
    .attr("x1", d => x(d)).attr("x2", d => x(d)).attr("y1", f.y0).attr("y2", f.y1)
    .attr("stroke", "#ffffff").attr("stroke-width", 1.2);
  grid.selectAll(".hmaj").data(yBreaks[i]).join("line")
    .attr("y1", d => y(d)).attr("y2", d => y(d)).attr("x1", f.x0).attr("x2", f.x1)
    .attr("stroke", "#ffffff").attr("stroke-width", 1.2);

  // points
  const marks = g.append("g").attr("clip-path", `url(#${clipId})`);
  marks.selectAll("path").data(pts).join("path")
    .attr("d", crossPath)
    .attr("transform", d => `translate(${x(d[0])},${y(d[1])})`)
    .attr("fill", "none").attr("stroke", "#000000")
    .attr("stroke-width", 1).attr("stroke-opacity", 0.5);

  // fitted line across the observed range
  const xr = d3.extent(pts, d => d[0]);
  const fit = xr.map(v => [v, intercepts[i] + slopes[i] * v]);
  marks.append("path").datum(fit)
    .attr("d", d3.line().x(d => x(d[0])).y(d => y(d[1])))
    .attr("fill", "none").attr("stroke", "#3366FF").attr("stroke-width", 2.1);

  // axes
  const ax = g.append("g").attr("transform", `translate(0,${f.y1})`)
    .call(d3.axisBottom(x).tickValues(xBreaks[i]).tickFormat(tickFmt).tickSize(4).tickPadding(3));
  const ay = g.append("g").attr("transform", `translate(${f.x0},0)`)
    .call(d3.axisLeft(y).tickValues(yBreaks[i]).tickFormat(tickFmt).tickSize(4).tickPadding(3));
  [ax, ay].forEach(a => {
    a.select(".domain").remove();
    a.selectAll(".tick line").attr("stroke", "#333333").attr("stroke-width", 1);
    a.selectAll(".tick text").attr("fill", "#4D4D4D").style("font-size", "18px")
      .style("font-family", '"Liberation Sans", Arial, sans-serif');
  });
  ax.selectAll(".tick text").attr("dy", "0.78em");

  // panel title
  svg.append("text").attr("x", f.x0 + 1).attr("y", f.y0 - 13)
    .attr("fill", "#000000").style("font-size", "29px").text(panelTitles[i]);

  // regression equation
  const eq = svg.append("text")
    .attr("x", f.x0 + 0.05 * w).attr("y", f.y0 + 0.05 * h + 16)
    .attr("fill", "#000000").style("font-size", "24px");
  eq.append("tspan").style("font-style", "italic").text("y");
  eq.append("tspan").text(" = " + (intercepts[i] < 0 ? "\u2212" : "") + num(Math.abs(intercepts[i])));
  eq.append("tspan").text(" + " + num(slopes[i]) + " ");
  eq.append("tspan").style("font-style", "italic").text("x");
});

// shared axis titles
svg.append("text").attr("x", 530).attr("y", 1385).attr("text-anchor", "middle")
  .attr("fill", "#000000").style("font-size", "29px").text(xTitle);
svg.append("text").attr("transform", "translate(33,695) rotate(-90)").attr("text-anchor", "middle")
  .attr("fill", "#000000").style("font-size", "29px").text(yTitle);
</script>
</body>
</html>
